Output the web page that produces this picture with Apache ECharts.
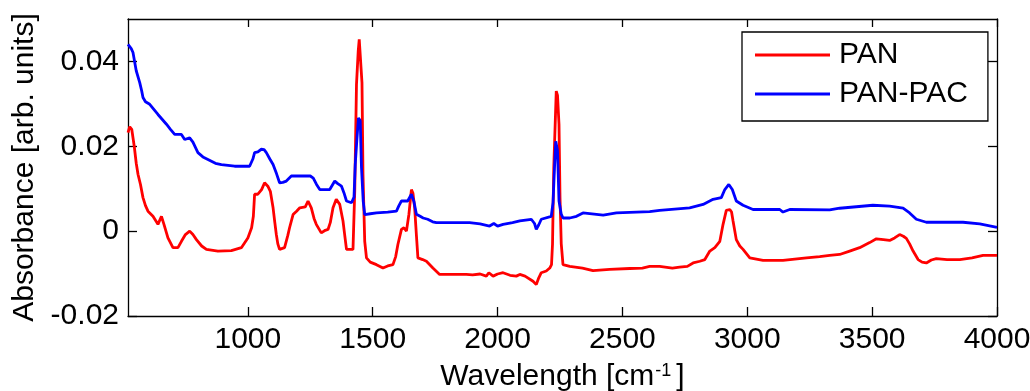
<!DOCTYPE html>
<html>
<head>
<meta charset="utf-8">
<script src="https://cdn.jsdelivr.net/npm/echarts@6/dist/echarts.min.js"></script>
<style>
html,body{margin:0;padding:0;background:#fff;}
#chart{width:1030px;height:391px;}
</style>
</head>
<body>
<div id="chart"></div>
<script>
// ---- data ----
const panWave = [520,527,535,545,553,560,570,580,590,600,620,640,654,664,680,700,720,734,750,767,780,794,815,834,880,934,974,1000,1015,1022,1027,1040,1047,1055,1067,1080,1090,1101,1108,1114,1120,1127,1147,1160,1167,1181,1195,1208,1230,1241,1254,1265,1274,1294,1310,1321,1330,1341,1354,1368,1381,1388,1395,1421,1428,1435,1442,1446,1452,1457,1461,1468,1475,1490,1515,1541,1560,1581,1592,1601,1615,1625,1635,1645,1655,1661,1668,1675,1681,1700,1715,1741,1768,1820,1875,1900,1930,1955,1965,1982,2000,2022,2050,2075,2089,2110,2142,2155,2165,2175,2195,2209,2216,2220,2225,2230,2235,2240,2246,2250,2255,2262,2289,2340,2382,2449,2529,2580,2609,2649,2700,2729,2760,2783,2810,2830,2850,2870,2890,2903,2916,2930,2937,2943,2956,2970,2983,3010,3063,3143,3190,3237,3290,3330,3370,3410,3450,3490,3517,3545,3570,3590,3610,3625,3637,3650,3664,3684,3700,3717,3737,3757,3800,3851,3900,3944,4000];
const panAbs = [0.0232,0.0246,0.0240,0.0200,0.0160,0.0134,0.0110,0.0079,0.0060,0.0047,0.0035,0.0016,0.0035,0.0016,-0.0016,-0.0039,-0.0039,-0.0024,-0.0008,0.0000,-0.0008,-0.0020,-0.0035,-0.0043,-0.0047,-0.0046,-0.0039,-0.0016,0.0008,0.0035,0.0087,0.0087,0.0083,0.0098,0.0114,0.0106,0.0094,0.0055,0.0020,-0.0008,-0.0030,-0.0043,-0.0039,-0.0010,0.0008,0.0039,0.0047,0.0055,0.0057,0.0071,0.0055,0.0030,0.0016,-0.0004,0.0002,0.0004,0.0020,0.0055,0.0075,0.0063,0.0024,-0.0010,-0.0043,-0.0043,0.0094,0.0346,0.0425,0.0452,0.0448,0.0350,0.0134,-0.0024,-0.0063,-0.0073,-0.0079,-0.0087,-0.0082,-0.0079,-0.0060,-0.0031,0.0004,0.0008,0.0000,0.0040,0.0098,0.0090,0.0055,-0.0010,-0.0063,-0.0067,-0.0071,-0.0087,-0.0102,-0.0102,-0.0102,-0.0103,-0.0101,-0.0106,-0.0098,-0.0106,-0.0101,-0.0098,-0.0104,-0.0106,-0.0102,-0.0106,-0.0118,-0.0126,-0.0110,-0.0098,-0.0094,-0.0087,-0.0079,-0.0031,0.0149,0.0240,0.0330,0.0320,0.0252,0.0080,-0.0030,-0.0079,-0.0083,-0.0087,-0.0093,-0.0090,-0.0088,-0.0087,-0.0083,-0.0083,-0.0087,-0.0085,-0.0083,-0.0075,-0.0071,-0.0067,-0.0047,-0.0039,-0.0024,0.0016,0.0049,0.0051,0.0045,0.0024,-0.0020,-0.0035,-0.0043,-0.0063,-0.0069,-0.0069,-0.0066,-0.0063,-0.0060,-0.0057,-0.0055,-0.0047,-0.0039,-0.0027,-0.0018,-0.0020,-0.0022,-0.0016,-0.0008,-0.0012,-0.0017,-0.0030,-0.0047,-0.0067,-0.0073,-0.0075,-0.0068,-0.0065,-0.0067,-0.0067,-0.0063,-0.0057,-0.0057];

const pacWave = [520,527,533,540,553,567,575,580,590,607,640,674,690,707,720,734,747,767,780,800,820,840,870,894,947,1007,1020,1027,1040,1054,1065,1074,1088,1101,1115,1127,1140,1154,1174,1228,1250,1262,1275,1288,1328,1348,1360,1375,1385,1395,1415,1425,1430,1437,1443,1450,1455,1462,1468,1490,1515,1560,1595,1605,1615,1640,1655,1665,1675,1690,1702,1720,1740,1755,1875,1888,1930,1968,1985,2000,2022,2060,2089,2135,2148,2155,2165,2175,2215,2222,2228,2233,2240,2246,2255,2262,2289,2316,2342,2423,2476,2609,2649,2769,2823,2863,2896,2910,2926,2940,2956,2983,3023,3130,3143,3170,3330,3370,3503,3570,3624,3650,3677,3717,3864,3931,4000];
const pacAbs = [0.0440,0.0444,0.0430,0.0421,0.0378,0.0350,0.0330,0.0315,0.0305,0.0299,0.0275,0.0252,0.0240,0.0228,0.0228,0.0228,0.0216,0.0220,0.0210,0.0185,0.0175,0.0169,0.0160,0.0157,0.0153,0.0153,0.0170,0.0185,0.0187,0.0193,0.0192,0.0185,0.0170,0.0157,0.0135,0.0114,0.0115,0.0118,0.0130,0.0130,0.0130,0.0125,0.0110,0.0098,0.0098,0.0118,0.0112,0.0106,0.0090,0.0071,0.0067,0.0080,0.0157,0.0220,0.0267,0.0260,0.0150,0.0070,0.0039,0.0041,0.0043,0.0045,0.0047,0.0060,0.0071,0.0071,0.0087,0.0070,0.0040,0.0035,0.0031,0.0028,0.0022,0.0020,0.0020,0.0020,0.0017,0.0012,0.0018,0.0012,0.0016,0.0020,0.0024,0.0028,0.0018,0.0004,0.0015,0.0028,0.0035,0.0067,0.0150,0.0212,0.0190,0.0071,0.0040,0.0031,0.0031,0.0035,0.0043,0.0038,0.0043,0.0046,0.0049,0.0055,0.0063,0.0075,0.0079,0.0098,0.0110,0.0098,0.0071,0.0061,0.0051,0.0051,0.0045,0.0051,0.0050,0.0054,0.0061,0.0059,0.0054,0.0043,0.0028,0.0021,0.0021,0.0017,0.0009];

const seriesNames = ['PAN', 'PAN-PAC'];
const xTicks = [1000, 1500, 2000, 2500, 3000, 3500, 4000];
const yTicks = [-0.02, 0, 0.02, 0.04];
const xRange = [520, 4000];
const yRange = [-0.02, 0.05];

// ---- chart ----
const FONT = 'Liberation Sans, Arial, sans-serif';
const zip = (xs, ys) => xs.map((x, i) => [x, ys[i]]);
const chart = echarts.init(document.getElementById('chart'), null, {renderer: 'canvas'});

const lineAxis = {onZero: false, lineStyle: {color: '#000', width: 1.3}};
const tickStyle = {lineStyle: {color: '#000', width: 1.3}};
const plain = v => String(v);

chart.setOption({
  animation: false,
  backgroundColor: '#fff',
  grid: {left: 128, right: 33, top: 19, bottom: 75, containLabel: false, outerBoundsMode: 'none'},
  legend: {
    orient: 'vertical', left: 742, top: 32,
    padding: [8, 20, 12, 13], itemGap: 9,
    itemWidth: 75, itemHeight: 3, icon: 'rect',
    borderColor: '#000', borderWidth: 1.3, backgroundColor: '#fff',
    textStyle: {fontSize: 30, fontFamily: FONT, color: '#000', padding: [0, 0, 0, 4]},
    data: seriesNames
  },
  xAxis: [{
    type: 'value', position: 'bottom', min: xRange[0], max: xRange[1],
    axisLine: lineAxis,
    axisTick: {inside: true, length: 9, customValues: xTicks, ...tickStyle},
    axisLabel: {customValues: xTicks, formatter: plain, fontSize: 30, fontFamily: FONT, color: '#000', margin: 9},
    splitLine: {show: false},
    name: 'Wavelength [cm{sup|-1}]', nameLocation: 'middle', nameGap: 46,
    nameTextStyle: {fontSize: 30, fontFamily: FONT, color: '#000',
      rich: {sup: {fontSize: 18, fontFamily: FONT, color: '#000', verticalAlign: 'top', padding: [0, 5, 0, 1]}}}
  }, {
    type: 'value', position: 'top', min: xRange[0], max: xRange[1],
    axisLine: lineAxis,
    axisTick: {inside: true, length: 8, customValues: xTicks, ...tickStyle},
    axisLabel: {show: false}, splitLine: {show: false}
  }],
  yAxis: [{
    type: 'value', position: 'left', min: yRange[0], max: yRange[1],
    axisLine: lineAxis,
    axisTick: {inside: true, length: 9, customValues: yTicks, ...tickStyle},
    axisLabel: {customValues: yTicks, formatter: plain, fontSize: 30, fontFamily: FONT, color: '#000', margin: 9},
    splitLine: {show: false},
    name: 'Absorbance [arb. units]', nameLocation: 'middle', nameGap: 87,
    nameTextStyle: {fontSize: 30, fontFamily: FONT, color: '#000'}
  }, {
    type: 'value', position: 'right', min: yRange[0], max: yRange[1],
    axisLine: lineAxis,
    axisTick: {inside: true, length: 9, customValues: yTicks, ...tickStyle},
    axisLabel: {show: false}, splitLine: {show: false}
  }],
  series: [{
    name: seriesNames[0], type: 'line', xAxisIndex: 0, yAxisIndex: 0,
    data: zip(panWave, panAbs), showSymbol: false, symbol: 'none',
    color: '#ff0000', lineStyle: {color: '#ff0000', width: 2.8}
  }, {
    name: seriesNames[1], type: 'line', xAxisIndex: 0, yAxisIndex: 0,
    data: zip(pacWave, pacAbs), showSymbol: false, symbol: 'none',
    color: '#0000ff', lineStyle: {color: '#0000ff', width: 2.8}
  }]
});
</script>
</body>
</html>
